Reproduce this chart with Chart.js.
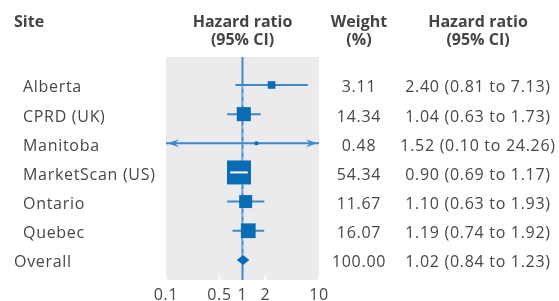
<!DOCTYPE html>
<html>
<head>
<meta charset="utf-8">
<script src="https://cdn.jsdelivr.net/npm/chart.js@4"></script>
<style>
html,body{margin:0;padding:0;background:#fff}
</style>
</head>
<body>
<canvas id="forest" width="559" height="301"></canvas>
<script>
// data
const sites = ["Alberta", "CPRD (UK)", "Manitoba", "MarketScan (US)", "Ontario", "Quebec"]
const hr = [2.40, 1.04, 1.52, 0.90, 1.10, 1.19]
const ci_lower = [0.81, 0.63, 0.10, 0.69, 0.63, 0.74]
const ci_upper = [7.13, 1.73, 24.26, 1.17, 1.93, 1.92]
const weights = [3.11, 14.34, 0.48, 54.34, 11.67, 16.07]
const overall_label = "Overall"
const overall_hr = 1.02
const overall_lower = 0.84
const overall_upper = 1.23
const overall_weight = 100.00
const x_ticks = [0.1, 0.5, 1, 2, 10]

const dark_blue = "#0b6cb6"
const mid_blue = "#3c89cc"
const text_col = "#474747"
const font_name = "'Open Sans', 'Noto Sans', sans-serif"

const box_side = (w)=>{
    let max_w = Math.max(...weights)
    return 24 * Math.pow(w/max_w, 0.4)
}
const fmt_ci = (h, lo, hi)=>{
    return h.toFixed(2) + " (" + lo.toFixed(2) + " to " + hi.toFixed(2) + ")"
}

// CI segments, null point breaks the line between rows
let ci_points = []
for(let i in sites){
    ci_points.push({x: ci_lower[i], y: Number(i)})
    ci_points.push({x: ci_upper[i], y: Number(i)})
    ci_points.push({x: null, y: null})
}

const draw_arrow = (ctx, x_tip, y, dir)=>{
    ctx.beginPath()
    ctx.moveTo(x_tip, y)
    ctx.lineTo(x_tip - dir*11, y - 4)
    ctx.lineTo(x_tip - dir*7, y)
    ctx.lineTo(x_tip - dir*11, y + 4)
    ctx.closePath()
    ctx.fill()
}

const forest_plugin = {
    id: "forest",
    beforeDatasetsDraw(chart){
        const ctx = chart.ctx
        const area = chart.chartArea
        const xs = chart.scales.x
        const ys = chart.scales.y
        ctx.save()
        ctx.fillStyle = "#ebebee"
        ctx.fillRect(area.left, area.top, area.right - area.left, area.bottom - area.top)
        // white tick marks
        ctx.strokeStyle = "#ffffff"
        ctx.lineWidth = 2
        for(let t of x_ticks){
            let px = xs.getPixelForValue(t)
            ctx.beginPath()
            ctx.moveTo(px, area.bottom - 4)
            ctx.lineTo(px, area.bottom)
            ctx.stroke()
        }
        // line of no effect
        let x1 = xs.getPixelForValue(1)
        ctx.strokeStyle = mid_blue
        ctx.lineWidth = 2
        ctx.beginPath()
        ctx.moveTo(x1, area.top)
        ctx.lineTo(x1, area.bottom)
        ctx.stroke()
        // dashed line at overall estimate
        let xo = xs.getPixelForValue(overall_hr)
        ctx.strokeStyle = "rgba(200,222,242,0.8)"
        ctx.lineWidth = 1.4
        ctx.setLineDash([4, 4])
        ctx.beginPath()
        ctx.moveTo(xo, ys.getPixelForValue(0))
        ctx.lineTo(xo, ys.getPixelForValue(sites.length))
        ctx.stroke()
        ctx.restore()
    },
    afterDatasetsDraw(chart){
        const ctx = chart.ctx
        const area = chart.chartArea
        const xs = chart.scales.x
        const ys = chart.scales.y
        ctx.save()
        for(let i in sites){
            let y = ys.getPixelForValue(Number(i))
            let lo = xs.getPixelForValue(ci_lower[i])
            let hi = xs.getPixelForValue(ci_upper[i])
            let side = box_side(weights[i])
            // CI hidden inside the box -> white line
            if(hi - lo < side){
                ctx.strokeStyle = "#ffffff"
                ctx.lineWidth = 2
                ctx.beginPath()
                ctx.moveTo(lo, y)
                ctx.lineTo(hi, y)
                ctx.stroke()
            }
            ctx.fillStyle = mid_blue
            if(ci_lower[i] <= xs.min) draw_arrow(ctx, area.left + 2, y, -1)
            if(ci_upper[i] >= xs.max) draw_arrow(ctx, area.right - 2, y, 1)
        }
        // overall diamond
        let yo = ys.getPixelForValue(sites.length)
        ctx.fillStyle = dark_blue
        ctx.beginPath()
        ctx.moveTo(xs.getPixelForValue(overall_lower), yo)
        ctx.lineTo(xs.getPixelForValue(overall_hr), yo - 5)
        ctx.lineTo(xs.getPixelForValue(overall_upper), yo)
        ctx.lineTo(xs.getPixelForValue(overall_hr), yo + 5)
        ctx.closePath()
        ctx.fill()

        // headers
        let x_hr = xs.getPixelForValue(1)
        ctx.fillStyle = "#444444"
        ctx.font = "bold 16px " + font_name
        ctx.textAlign = "left"
        ctx.fillText("Site", 14, 27)
        ctx.textAlign = "center"
        ctx.fillText("Hazard ratio", x_hr, 27)
        ctx.fillText("(95% CI)", x_hr, 45)
        ctx.fillText("Weight", 359, 27)
        ctx.fillText("(%)", 359, 45)
        ctx.fillText("Hazard ratio", 478, 27)
        ctx.fillText("(95% CI)", 478, 45)

        // rows
        ctx.fillStyle = text_col
        ctx.font = "16px " + font_name
        ctx.letterSpacing = "0.7px"
        for(let i in sites){
            let y = ys.getPixelForValue(Number(i)) + 7.5
            ctx.textAlign = "left"
            ctx.fillText(sites[i], 23, y)
            ctx.textAlign = "center"
            ctx.fillText(weights[i].toFixed(2), 359, y)
            ctx.fillText(fmt_ci(hr[i], ci_lower[i], ci_upper[i]), 478, y)
        }
        ctx.textAlign = "left"
        ctx.fillText(overall_label, 14, yo + 7.5)
        ctx.textAlign = "center"
        ctx.fillText(overall_weight.toFixed(2), 359, yo + 7.5)
        ctx.fillText(fmt_ci(overall_hr, overall_lower, overall_upper), 478, yo + 7.5)

        // x tick labels
        ctx.textBaseline = "top"
        for(let t of x_ticks){
            ctx.fillText(String(t), xs.getPixelForValue(t), area.bottom + 7)
        }
        ctx.restore()
    }
}

var ctx = document.getElementById("forest").getContext("2d")
var forest_chart = new Chart(ctx, {
    type: "scatter",
    data: {
        datasets: [{
                label: "Hazard ratio",
                data: hr.map((v, i)=>({x: v, y: i})),
                pointStyle: "rect",
                pointRadius: weights.map((w)=>box_side(w)/Math.SQRT2),
                pointHoverRadius: weights.map((w)=>box_side(w)/Math.SQRT2),
                backgroundColor: dark_blue,
                borderWidth: 0
            },
            {
                label: "95% CI",
                type: "line",
                data: ci_points,
                borderColor: mid_blue,
                borderWidth: 2,
                pointRadius: 0,
                spanGaps: false,
                fill: false
            }
        ]
    },
    options: {
        responsive: false,
        animation: false,
        events: [],
        layout: {padding: {left: 166, right: 240, top: 57, bottom: 21}},
        scales: {
            x: {type: "logarithmic", min: 0.1, max: 10, display: false},
            y: {type: "linear", min: -0.96, max: 6.69, reverse: true, display: false}
        },
        plugins: {
            legend: {display: false},
            tooltip: {enabled: false}
        }
    },
    plugins: [forest_plugin]
})
</script>
</body>
</html>
